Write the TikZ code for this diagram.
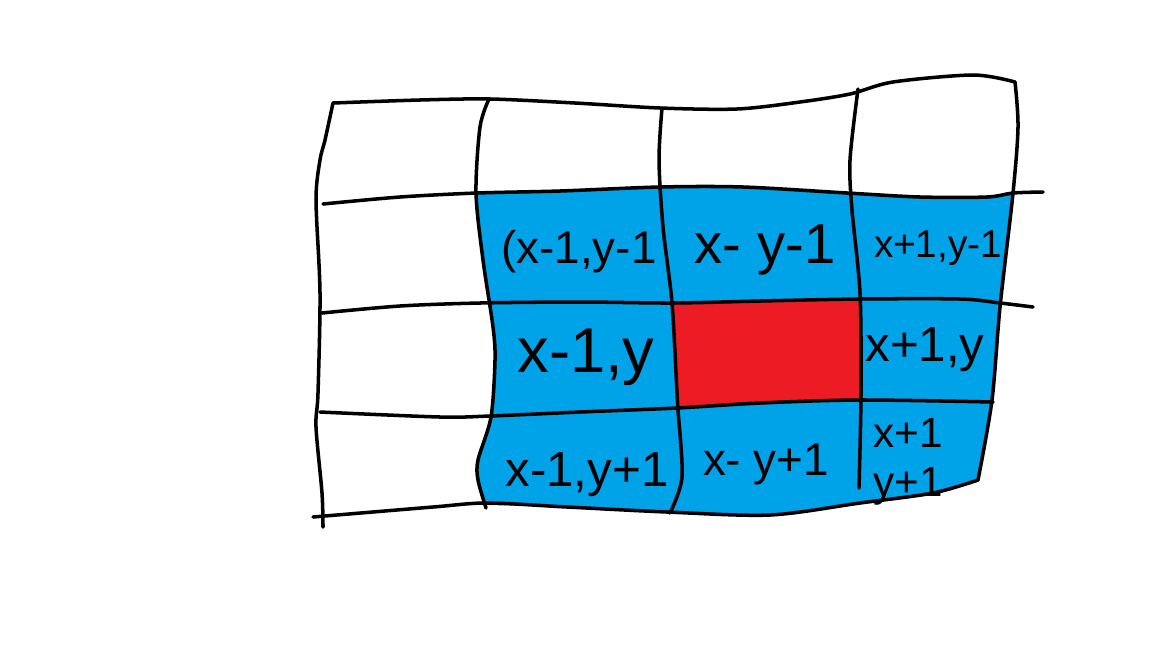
\documentclass[tikz,border=0pt]{standalone}
\usepackage{fontspec}
\setmainfont{Liberation Sans}
\definecolor{paintblue}{HTML}{00A2E8}
\definecolor{paintred}{HTML}{ED1C24}
\begin{document}
\begin{tikzpicture}[x=0.01cm,y=-0.01cm,
  stroke/.style={draw=black,line width=1pt,line cap=round,line join=round},
  lbl/.style={inner sep=0pt,text=black}]
\useasboundingbox[fill=white] (0,0) rectangle (1152,648);
% blue neighbourhood
\fill[paintblue] plot[smooth] coordinates {(476,193) (560,191) (660,187) (743,187) (847,193) (920,197) (987,197) (1013,194)}
  -- plot[smooth] coordinates {(1013,194) (1000,307) (992,400) (978,480)}
  -- plot[smooth] coordinates {(978,480) (933,493) (860,503) (770,515) (667,512) (567,507) (486,505)}
  -- plot[smooth] coordinates {(486,505) (478,480) (478,460) (491,417) (495,360) (493,327) (483,260) (476,193)} -- cycle;
% red centre cell
\fill[paintred] (673,304) -- (860,300) -- (861,400) -- (677,408) -- cycle;
% outer frame
\draw[stroke] plot[smooth] coordinates {(333,103) (420,100) (490,99) (575,103) (660,108) (737,109) (800,102) (850,94) (893,82) (973,75) (1015,82)};
\draw[stroke] plot[smooth] coordinates {(333,103) (325,140) (320,160) (316,200) (320,293) (318,393) (316,427) (322,493) (323,527)};
\draw[stroke] plot[smooth] coordinates {(1015,82) (1018,127) (1013,193) (1000,307) (992,400) (978,480)};
\draw[stroke] plot[smooth] coordinates {(313,517) (433,507) (487,503) (567,507) (667,512) (770,515) (860,503) (933,493) (978,480)};
% horizontal grid lines
\draw[stroke] plot[smooth] coordinates {(323,204) (400,197) (477,193) (560,191) (660,187) (743,187) (847,193) (920,197) (987,197) (1013,193) (1043,192)};
\draw[stroke] plot[smooth] coordinates {(322,313) (400,306) (480,303) (580,302) (673,303) (760,301) (860,299) (960,299) (1000,303) (1033,307)};
\draw[stroke] plot[smooth] coordinates {(320,412) (440,417) (490,416) (580,412) (677,408) (760,403) (860,400) (993,402)};
% vertical grid lines
\draw[stroke] plot[smooth] coordinates {(489,99) (480,127) (476,193) (483,260) (493,327) (495,360) (491,417) (478,460) (478,480) (486,508)};
\draw[stroke] plot[smooth] coordinates {(662,108) (659,160) (663,227) (672,303) (677,393) (678,410) (682,477) (670,513)};
\draw[stroke] plot[smooth] coordinates {(858,89) (850,160) (852,210) (860,293) (861,393) (859,488)};
% labels
\node[lbl,font=\fontsize{13}{15}\selectfont] (nw) at (579,252) {(x-1,y-1};
\node[lbl,font=\fontsize{16}{18}\selectfont] (n) at (765,250) {x- y-1};
\node[lbl,font=\fontsize{11}{13}\selectfont] (ne) at (938,248) {x+1,y-1};
\node[lbl,font=\fontsize{18}{20}\selectfont] (w) at (586,357) {x-1,y};
\node[lbl,font=\fontsize{14}{16}\selectfont] (e) at (925,350) {x+1,y};
\node[lbl,font=\fontsize{14}{16}\selectfont] (sw) at (587,475) {x-1,y+1};
\node[lbl,font=\fontsize{13}{15}\selectfont] (s) at (766,465) {x- y+1};
\node[lbl,font=\fontsize{12}{14}\selectfont,align=left] (se) at (908,462) {x+1\\y+1};
\end{tikzpicture}
\end{document}
